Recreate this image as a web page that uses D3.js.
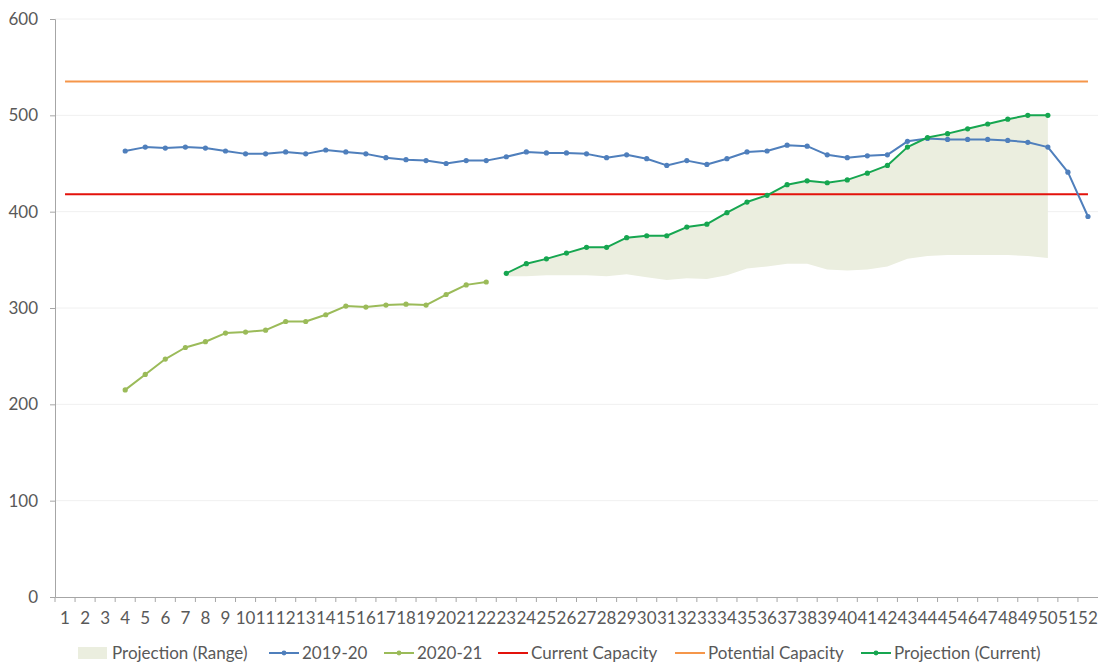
<!DOCTYPE html>
<html>
<head>
<meta charset="utf-8">
<script src="https://cdn.jsdelivr.net/npm/d3@7"></script>
<style>
  html, body { margin: 0; padding: 0; background: #ffffff; }
  svg { display: block; }
  text { font-family: Lato, "Open Sans", sans-serif; fill: #595959; }
</style>
</head>
<body>
<svg id="chart" width="1098" height="665"></svg>
<script>
// ---- data ----
const weeks = d3.range(1, 53);              // x categories / tick labels
const yTicks = [0, 100, 200, 300, 400, 500, 600];

const weeks2019 = d3.range(4, 53);
const values2019 = [463, 467, 466, 467, 466, 463, 460, 460, 462, 460, 464, 462, 460, 456, 454, 453, 450, 453, 453,
                    457, 462, 461, 461, 460, 456, 459, 455, 448, 453, 449, 455, 462, 463, 469, 468, 459, 456, 458, 459,
                    473, 476, 475, 475, 475, 474, 472, 467, 441, 395];

const weeks2020 = d3.range(4, 23);
const values2020 = [215, 231, 247, 259, 265, 274, 275, 277, 286, 286, 293, 302, 301, 303, 304, 303, 314, 324, 327];

const weeksProj = d3.range(23, 51);
const projCurrent = [336, 346, 351, 357, 363, 363, 373, 375, 375, 384, 387, 399, 410, 417, 428, 432, 430, 433, 440,
                     448, 467, 477, 481, 486, 491, 496, 500, 500];
const rangeLow = [333, 333, 334, 334, 334, 333, 335, 332, 329, 331, 330, 334, 341, 343, 346, 346, 340, 339, 340,
                  343, 351, 354, 355, 355, 355, 355, 354, 352];
const rangeHigh = projCurrent;

const currentCapacity = 418;
const potentialCapacity = 535;

const legendLabels = ["Projection (Range)", "2019-20", "2020-21", "Current Capacity", "Potential Capacity", "Projection (Current)"];

(function () {
// ---- colours ----
const C = {
  range: "#ebeedf", s2019: "#4f7fbc", s2020: "#9bbb59", cur: "#e3120b", pot: "#f5964a", proj: "#16a650",
  grid: "#f0f0f0", axis: "#a6a6a6"
};
const FS = "17px";

// ---- layout ----
const svg = d3.select("#chart");
const mLeft = 55, mRight = 1098, mTop = 19, mBottom = 597;

const x = d3.scaleBand().domain(weeks).range([mLeft, mRight]).paddingInner(0).paddingOuter(0);
const xc = d => x(d) + x.bandwidth() / 2;
const y = d3.scaleLinear().domain([0, 600]).range([mBottom, mTop]);

// gridlines
svg.append("g").selectAll("line").data(yTicks.filter(d => d > 0)).join("line")
  .attr("x1", mLeft).attr("x2", mRight).attr("y1", d => y(d)).attr("y2", d => y(d))
  .attr("stroke", C.grid).attr("stroke-width", 1);

// range area
const rangeData = weeksProj.map((w, i) => ({ w, lo: rangeLow[i], hi: rangeHigh[i] }));
svg.append("path").datum(rangeData)
  .attr("fill", C.range)
  .attr("d", d3.area().x(d => xc(d.w)).y0(d => y(d.lo)).y1(d => y(d.hi)));

// capacity lines
[[currentCapacity, C.cur], [potentialCapacity, C.pot]].forEach(([v, col]) => {
  svg.append("path").datum([1, 52])
    .attr("fill", "none").attr("stroke", col).attr("stroke-width", 2)
    .attr("d", d3.line().x(d => xc(d)).y(() => y(v)));
});

// series lines with markers
function series(ws, vs, col) {
  const data = ws.map((w, i) => ({ w, v: vs[i] }));
  const g = svg.append("g");
  g.append("path").datum(data)
    .attr("fill", "none").attr("stroke", col).attr("stroke-width", 2).attr("stroke-linejoin", "round")
    .attr("d", d3.line().x(d => xc(d.w)).y(d => y(d.v)));
  g.selectAll("circle").data(data).join("circle")
    .attr("cx", d => xc(d.w)).attr("cy", d => y(d.v)).attr("r", 2.6).attr("fill", col);
}
series(weeks2019, values2019, C.s2019);
series(weeks2020, values2020, C.s2020);
series(weeksProj, projCurrent, C.proj);

// y axis
const yAxis = svg.append("g").attr("transform", `translate(${mLeft},0)`)
  .call(d3.axisLeft(y).tickValues(yTicks).tickSize(5).tickPadding(12));
yAxis.select(".domain").attr("stroke", C.axis);
yAxis.selectAll(".tick line").attr("stroke", C.axis);
yAxis.selectAll("text").style("font-size", FS).attr("fill", "#595959");

// x axis
const xAxis = svg.append("g").attr("transform", `translate(0,${mBottom})`)
  .call(d3.axisBottom(x).tickSize(0).tickPadding(15));
xAxis.select(".domain").attr("stroke", C.axis);
xAxis.selectAll("text").style("font-size", FS).attr("fill", "#595959");
// category boundary ticks
xAxis.append("g").selectAll("line").data(weeks).join("line")
  .attr("x1", d => x(d)).attr("x2", d => x(d)).attr("y1", 0).attr("y2", 5)
  .attr("stroke", C.axis);

// legend
const legendX = [78, 269, 384, 498, 675, 861];
const legendCols = [C.range, C.s2019, C.s2020, C.cur, C.pot, C.proj];
const legendMarker = [false, true, true, false, false, true];
const ly = 653;
const lg = svg.append("g");
legendLabels.forEach((lab, i) => {
  const gx = legendX[i];
  if (i === 0) {
    lg.append("rect").attr("x", gx).attr("y", ly - 6).attr("width", 29).attr("height", 12).attr("fill", C.range);
  } else {
    lg.append("line").attr("x1", gx).attr("x2", gx + 30).attr("y1", ly).attr("y2", ly)
      .attr("stroke", legendCols[i]).attr("stroke-width", 2);
    if (legendMarker[i]) lg.append("circle").attr("cx", gx + 15).attr("cy", ly).attr("r", 2.4).attr("fill", legendCols[i]);
  }
  lg.append("text").attr("x", gx + (i === 0 ? 34 : 33)).attr("y", ly).attr("dy", "0.35em")
    .style("font-size", FS).text(lab);
});
})();
</script>
</body>
</html>
